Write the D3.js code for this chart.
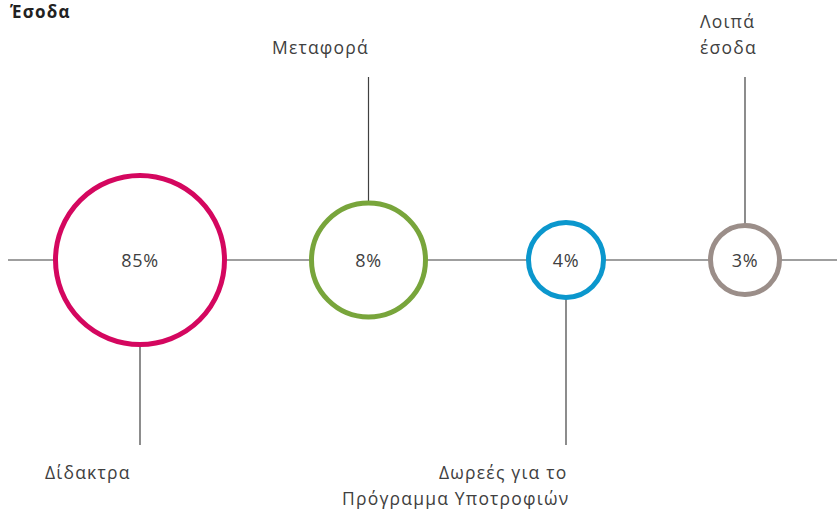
<!DOCTYPE html>
<html>
<head>
<meta charset="utf-8">
<script src="https://cdn.jsdelivr.net/npm/d3@7"></script>
<style>
  body { margin: 0; background: #fff; }
  text { font-family: "Open Sans", "Noto Sans", sans-serif; fill: #404040; }
</style>
</head>
<body>
<div id="container"></div>
<script>
let w = 837;
let h = 514;

// data
let categories = ["Δίδακτρα", "Μεταφορά", "Δωρεές για το Πρόγραμμα Υποτροφιών", "Λοιπά έσοδα"];
let shares = [85, 8, 4, 3];
let labelLines = [["Δίδακτρα"], ["Μεταφορά"], ["Δωρεές για το", "Πρόγραμμα Υποτροφιών"], ["Λοιπά", "έσοδα"]];
let title = "Έσοδα";

let colors = ["#d4075f", "#78a53b", "#0b97cd", "#9b8e89"];

let viz = d3.select("#container")
  .append("svg")
    .attr("width", w)
    .attr("height", h);

let cy = 260;

// where each bubble sits along the line
let xScale = d3.scaleOrdinal().domain(categories).range([140, 368.5, 566, 745]);
// bubble size (hand-tuned, not strictly proportional)
let rScale = d3.scaleLinear().domain([3, 4, 8, 85]).range([34.5, 37.5, 57, 84.5]);
let colorScale = d3.scaleOrdinal().domain(categories).range(colors);

let data = categories.map(function(c, i){
  return { cat: c, value: shares[i], lines: labelLines[i], up: i % 2 == 1 };
});

// main line
viz.append("line")
  .attr("x1", 8).attr("x2", w)
  .attr("y1", cy).attr("y2", cy)
  .attr("stroke", "#404040").attr("stroke-width", 1.2);

// stems
viz.selectAll(".stem").data(data).enter()
  .append("line")
    .attr("class", "stem")
    .attr("x1", d => xScale(d.cat)).attr("x2", d => xScale(d.cat))
    .attr("y1", cy)
    .attr("y2", d => d.up ? 77 : 445)
    .attr("stroke", "#404040").attr("stroke-width", 1.2);

// bubbles
viz.selectAll(".bubble").data(data).enter()
  .append("circle")
    .attr("class", "bubble")
    .attr("cx", d => xScale(d.cat))
    .attr("cy", cy)
    .attr("r", d => rScale(d.value))
    .attr("fill", "#fff")
    .attr("stroke", d => colorScale(d.cat))
    .attr("stroke-width", 5);

viz.selectAll(".pct").data(data).enter()
  .append("text")
    .attr("class", "pct")
    .attr("x", d => xScale(d.cat))
    .attr("y", cy + 6.5)
    .attr("text-anchor", "middle")
    .style("font-size", "18px")
    .style("letter-spacing", "0.6px")
    .text(d => d.value + "%");

// category labels: left edge offset from stem, line-by-line
let labelPos = [
  { dx: [-95], y: [479] },
  { dx: [-96.5], y: [54] },
  { dx: [-127, -224], y: [479, 505] },
  { dx: [-45, -45], y: [28, 53.5] }
];

data.forEach(function(d, i){
  let p = labelPos[i];
  d.lines.forEach(function(line, j){
    viz.append("text")
      .attr("x", xScale(d.cat) + p.dx[j])
      .attr("y", p.y[j])
      .style("font-size", "17.5px")
      .style("letter-spacing", "1.2px")
      .text(line);
  });
});

viz.append("text")
  .attr("x", 10)
  .attr("y", 17.5)
  .style("font-size", "17px")
  .style("font-weight", "bold")
  .style("letter-spacing", "1.2px")
  .style("fill", "#222")
  .text(title);
</script>
</body>
</html>
